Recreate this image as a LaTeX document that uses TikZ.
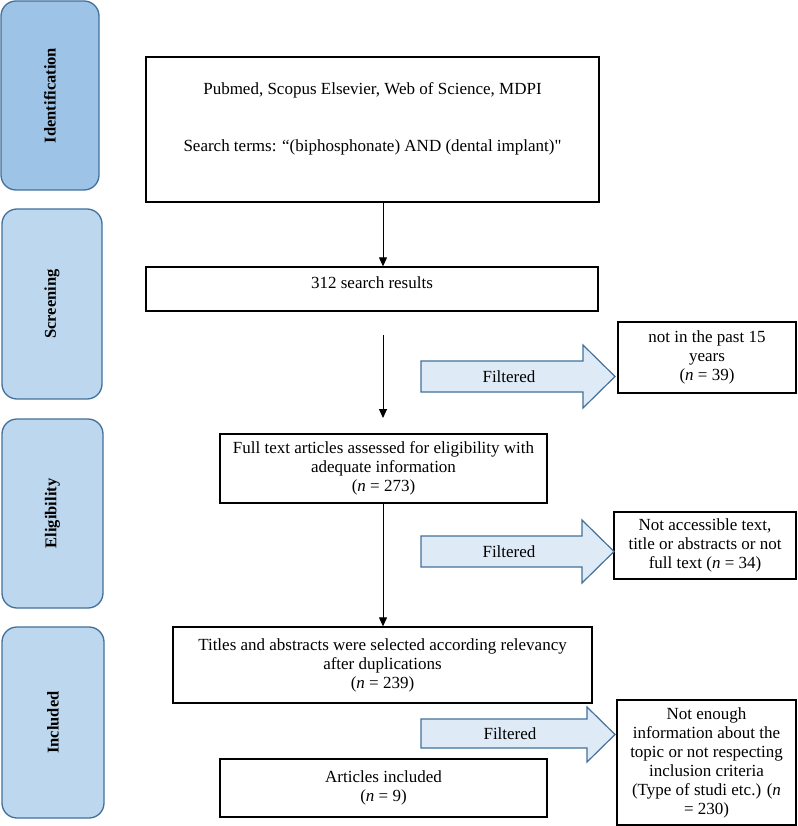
\documentclass[tikz,border=0pt]{standalone}
\usepackage{fontspec}
\setmainfont{Liberation Serif}
\usetikzlibrary{arrows.meta,calc}
\definecolor{phasedark}{HTML}{9DC3E6}
\definecolor{phaselight}{HTML}{BDD7EE}
\definecolor{phaseline}{HTML}{41719C}
\definecolor{filterfill}{HTML}{DEEBF7}
\begin{document}
\begin{tikzpicture}[x=1pt,y=-1pt,
  every node/.style={font=\fontsize{17}{19}\selectfont, inner sep=0pt},
  stagebox/.style={draw=black, line width=1.3pt, fill=white, align=center},
  phasebox/.style={draw=phaseline, line width=1.3pt, fill=phaselight, rounded corners=15pt},
  phaselabel/.style={rotate=90, font=\fontsize{16.5}{19}\selectfont\bfseries},
  filterarrow/.style={draw=phaseline, line width=1.2pt, fill=filterfill, line join=miter},
  flow/.style={draw=black, line width=1pt, -{Triangle[width=8pt,length=9pt]}}]
\useasboundingbox (0,0) rectangle (797,826);
\fill[white] (0,0) rectangle (797,826);

% phase boxes
\node[phasebox, fill=phasedark, minimum width=98pt, minimum height=189pt] (ident) at (50,95.5) {};
\node[phaselabel] (identl) at (ident.center) {Identification};
\node[phasebox, minimum width=100pt, minimum height=190pt] (screen) at (52,304) {};
\node[phaselabel] (screenl) at (screen.center) {Screening};
\node[phasebox, minimum width=101pt, minimum height=189pt] (elig) at (52.5,513.5) {};
\node[phaselabel] (eligl) at (elig.center) {Eligibility};
\node[phasebox, minimum width=102pt, minimum height=191pt] (inclp) at (53,722.5) {};
\node[phaselabel] (inclpl) at (inclp.center) {Included};

% main flow boxes
\node[stagebox, minimum width=453pt, minimum height=145pt] (top) at (372.5,129.5) {};
\node[align=center] (toptext) at (372.5,118.5) {Pubmed, Scopus Elsevier, Web of Science, MDPI\\[38pt]Search terms: “(biphosphonate) AND (dental implant)\textquotedbl};
\node[stagebox, minimum width=452pt, minimum height=44pt] (res) at (372,289) {};
\node (restext) at (372,283) {312 search results};
\node[stagebox, minimum width=327pt, minimum height=69pt] (full) at (383.5,468.5) {Full text articles assessed for eligibility with\\adequate information\\(\textit{n} = 273)};
\node[stagebox, minimum width=419pt, minimum height=76pt] (titles) at (382.5,665) {Titles and abstracts were selected according relevancy\\after duplications\\(\textit{n} = 239)};
\node[stagebox, minimum width=327pt, minimum height=58pt] (incl) at (383.5,788) {Articles included\\(\textit{n} = 9)};

% excluded boxes
\node[stagebox, minimum width=178pt, minimum height=71pt] (ex1) at (707,357.5) {not in the past 15\\years\\(\textit{n} = 39)};
\node[stagebox, minimum width=182pt, minimum height=67pt] (ex2) at (705,545.5) {Not accessible text,\\title or abstracts or not\\full text (\textit{n} = 34)};
\node[stagebox, minimum width=179pt, minimum height=125pt] (ex3) at (706.5,762.5) {Not enough\\information about the\\topic or not respecting\\inclusion criteria\\(Type of studi etc.) (\textit{n}\\= 230)};

% filtered block arrows
\draw[filterarrow] (421,361) -- (583,361) -- (583,345) -- (615,376.5) -- (583,408) -- (583,392) -- (421,392) -- cycle;
\node (f1) at (509,376.5) {Filtered};
\draw[filterarrow] (421,536) -- (582,536) -- (582,520) -- (614,551.5) -- (582,583) -- (582,567) -- (421,567) -- cycle;
\node (f2) at (509,551.5) {Filtered};
\draw[filterarrow] (421,719) -- (587,719) -- (587,707) -- (615,734.5) -- (587,762) -- (587,748) -- (421,748) -- cycle;
\node (f3) at (510,734) {Filtered};

% flow connectors
\coordinate (ax) at (383,0);
\coordinate (s2) at (383,335);
\coordinate (e2) at (383,418);
\draw[flow] (top.south -| ax) -- (res.north -| ax);
\draw[flow] (s2) -- (e2);
\draw[flow] (full.south -| ax) -- (titles.north -| ax);
\end{tikzpicture}
\end{document}
